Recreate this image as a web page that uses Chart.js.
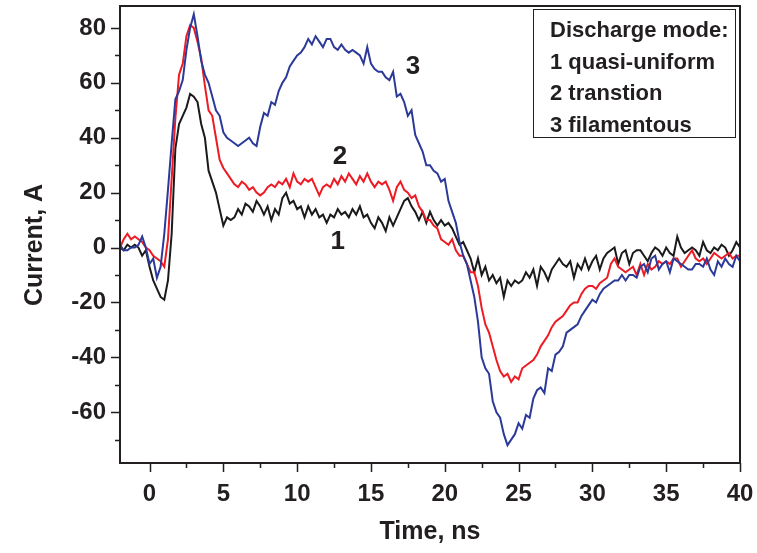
<!DOCTYPE html>
<html>
<head>
<meta charset="utf-8">
<script src="https://cdn.jsdelivr.net/npm/chart.js@4.4.1/dist/chart.umd.min.js"></script>
<style>
  html, body { margin: 0; padding: 0; background: #fff; }
</style>
</head>
<body>
<canvas id="canvas" width="757" height="553"></canvas>
<script>
// time, ns (0.25 ns sampling)
const times = [
  -2,-1.75,-1.5,-1.25, -1,-0.75,-0.5,-0.25,
  0,0.25,0.5,0.75, 1,1.25,1.5,1.75, 2,2.25,2.5,2.75, 3,3.25,3.5,3.75, 4,4.25,4.5,4.75,
  5,5.25,5.5,5.75, 6,6.25,6.5,6.75, 7,7.25,7.5,7.75, 8,8.25,8.5,8.75, 9,9.25,9.5,9.75,
  10,10.25,10.5,10.75, 11,11.25,11.5,11.75, 12,12.25,12.5,12.75, 13,13.25,13.5,13.75, 14,14.25,14.5,14.75,
  15,15.25,15.5,15.75, 16,16.25,16.5,16.75, 17,17.25,17.5,17.75, 18,18.25,18.5,18.75, 19,19.25,19.5,19.75,
  20,20.25,20.5,20.75, 21,21.25,21.5,21.75, 22,22.25,22.5,22.75, 23,23.25,23.5,23.75, 24,24.25,24.5,24.75,
  25,25.25,25.5,25.75, 26,26.25,26.5,26.75, 27,27.25,27.5,27.75, 28,28.25,28.5,28.75, 29,29.25,29.5,29.75,
  30,30.25,30.5,30.75, 31,31.25,31.5,31.75, 32,32.25,32.5,32.75, 33,33.25,33.5,33.75, 34,34.25,34.5,34.75,
  35,35.25,35.5,35.75, 36,36.25,36.5,36.75, 37,37.25,37.5,37.75, 38,38.25,38.5,38.75, 39,39.25,39.5,39.75,
  40
];

// current, A
const quasiUniform = [
  0,-1,1,0, 1,0,-3,-1,
  -7,-12,-15,-18, -19,-12,5,36, 45,48,51,56, 55,53,45,40, 28,24,20,14,
  8,11,10,11, 14,12,16,15, 13,17,15,12, 15,10,14,12, 18,20,16,17,
  14,15,11,15, 12,14,11,12, 9,12,11,14, 12,13,11,14, 12,15,11,12,
  9,7,11,9, 6,11,8,11, 14,17,18,15, 13,10,13,9, 13,10,8,10,
  8,9,7,4, 1,2,-1,-4, -9,-4,-10,-7, -12,-10,-13,-11, -18,-12,-14,-12,
  -13,-12,-9,-11, -8,-14,-7,-9, -12,-8,-6,-4, -6,-7,-5,-11, -6,-8,-4,-8,
  -5,-3,-8,-4, -2,-1,0,-6, -2,-1,-6,-2, -1,-1,-3,-5, -2,0,-1,-3,
  0,-2,-3,4, 0,-2,-1,0, -1,-3,2,-1, -2,0,-1,1, 0,-3,-1,2,
  0
];

const transition = [
  0,3,5,3, 4,3,2,0,
  -1,-3,-4,-5, -7,3,25,47, 63,67,77,81, 80,75,69,59, 50,48,40,32,
  29,27,25,23, 22,24,23,21, 22,20,19,20, 22,23,22,24, 23,25,22,27,
  24,23,25,24, 25,22,19,22, 23,22,25,23, 26,24,27,25, 23,26,24,27,
  24,22,24,23, 24,21,17,22, 24,21,20,18, 19,15,13,10, 10,8,7,3,
  2,1,3,-1, -3,-3,-6,-9, -9,-14,-22,-28, -31,-36,-41,-45, -47,-46,-49,-47,
  -48,-44,-43,-42, -41,-39,-36,-34, -32,-29,-27,-26, -25,-23,-21,-20, -20,-17,-15,-14,
  -14,-15,-13,-12, -11,-6,-4,-7, -8,-9,-8,-7, -10,-6,-10,-6, -8,-7,-5,-6,
  -5,-6,-4,-4, -7,-5,-3,-1, -4,-5,-4,-6, -4,-2,-3,-4, -3,-2,-4,-3,
  -3
];

const filamentous = [
  1,-1,-1,0, 0,1,4,0,
  -6,-4,-11,-7, 5,21,38,54, 57,61,72,80, 85,77,68,63, 60,55,50,48,
  42,40,39,38, 37,38,39,40, 38,37,44,49, 48,53,52,57, 60,62,66,68,
  70,71,73,76, 74,77,75,73, 76,76,73,72, 74,72,71,72, 71,70,67,73,
  67,65,64,64, 62,61,64,55, 56,53,48,50, 41,38,35,30, 30,28,27,24,
  25,17,13,9, 2,-3,-6,-12, -18,-27,-40,-44, -46,-56,-60,-62, -68,-72,-70,-68,
  -64,-66,-61,-62, -55,-52,-51,-53, -44,-45,-39,-38, -36,-31,-30,-29, -28,-25,-23,-21,
  -19,-20,-17,-15, -14,-13,-12,-12, -10,-12,-10,-10, -11,-7,-6,-9, -4,-3,-8,-6,
  -5,-9,-4,-5, -6,-7,-8,-8, -6,-6,-7,-4, -8,-10,-5,-7, -4,-6,-7,-3,
  -5
];

const timeTicks = [0, 5, 10, 15, 20, 25, 30, 35, 40];
const currentTicks = [-60, -40, -20, 0, 20, 40, 60, 80];
const legendLines = ['Discharge mode:', '1 quasi-uniform', '2 transtion', '3 filamentous'];
const curveTags = ['1', '2', '3'];

const ink = '#231f20';
const fontFamily = '"Liberation Sans", Arial, sans-serif';

function pts(arr) {
  return arr.map((v, i) => ({ x: times[i], y: v }));
}

// frame, ticks, titles, text box and curve numbers
const decor = {
  id: 'decor',
  afterDatasetsDraw(chart) {
    const { ctx, chartArea: a, scales: { x, y } } = chart;
    ctx.save();
    ctx.strokeStyle = ink;
    ctx.lineWidth = 2;
    ctx.strokeRect(a.left, a.top, a.right - a.left, a.bottom - a.top);

    ctx.lineWidth = 1.5;
    ctx.beginPath();
    for (let v = -70; v <= 80; v += 10) {
      const py = Math.round(y.getPixelForValue(v)) + 0.5;
      const len = v % 20 === 0 ? 9 : 5;
      ctx.moveTo(a.left, py);
      ctx.lineTo(a.left - len, py);
    }
    for (let v = 0; v <= 40; v += 2.5) {
      const px = Math.round(x.getPixelForValue(v)) + 0.5;
      const len = v % 5 === 0 ? 9 : 5;
      ctx.moveTo(px, a.bottom);
      ctx.lineTo(px, a.bottom + len);
    }
    ctx.stroke();

    ctx.fillStyle = ink;
    ctx.font = 'bold 25px ' + fontFamily;
    ctx.textAlign = 'center';
    ctx.textBaseline = 'middle';
    ctx.fillText('Time, ns', (a.left + a.right) / 2, 532);
    ctx.save();
    ctx.translate(35, 245);
    ctx.rotate(-Math.PI / 2);
    ctx.fillText('Current, A', 0, 0);
    ctx.restore();

    // text box
    ctx.lineWidth = 1;
    ctx.strokeRect(533.5, 9.5, 202, 128);
    ctx.font = 'bold 22px ' + fontFamily;
    ctx.textAlign = 'left';
    ctx.textBaseline = 'alphabetic';
    legendLines.forEach((s, i) => ctx.fillText(s, 550, 37 + i * 31.7));

    // curve numbers
    ctx.font = 'bold 26px ' + fontFamily;
    ctx.textAlign = 'center';
    ctx.textBaseline = 'middle';
    ctx.fillText(curveTags[0], x.getPixelForValue(12.75), y.getPixelForValue(2));
    ctx.fillText(curveTags[1], x.getPixelForValue(12.9), y.getPixelForValue(33));
    ctx.fillText(curveTags[2], x.getPixelForValue(17.85), y.getPixelForValue(66));
    ctx.restore();
  }
};

const tickFont = { family: fontFamily, weight: 'bold', size: 24 };

const config = {
  type: 'line',
  data: {
    datasets: [
      { label: '3 filamentous', data: pts(filamentous), borderColor: '#2b3a98' },
      { label: '2 transtion', data: pts(transition), borderColor: '#ed1c24' },
      { label: '1 quasi-uniform', data: pts(quasiUniform), borderColor: '#1a1a1a' }
    ]
  },
  options: {
    responsive: false,
    animation: false,
    devicePixelRatio: 1,
    layout: { padding: { top: 6, right: 17, left: 0, bottom: 0 } },
    elements: {
      point: { radius: 0 },
      line: { borderWidth: 2, tension: 0, fill: false }
    },
    plugins: { legend: { display: false }, tooltip: { enabled: false } },
    scales: {
      x: {
        type: 'linear',
        min: -2,
        max: 40,
        grid: { display: false },
        border: { display: false },
        ticks: { font: tickFont, color: ink, padding: 9, maxRotation: 0, autoSkip: false },
        afterBuildTicks: s => { s.ticks = timeTicks.map(v => ({ value: v })); },
        afterFit: s => { s.height = 90; s.paddingLeft = 0; s.paddingRight = 0; }
      },
      y: {
        min: -78.5,
        max: 88,
        grid: { display: false },
        border: { display: false },
        ticks: { font: tickFont, color: ink, padding: 6, autoSkip: false },
        afterBuildTicks: s => { s.ticks = currentTicks.map(v => ({ value: v })); },
        afterFit: s => { s.width = 120; s.paddingTop = 0; s.paddingBottom = 0; }
      }
    }
  },
  plugins: [decor]
};

const chart = new Chart(document.getElementById('canvas'), config);
</script>
</body>
</html>
